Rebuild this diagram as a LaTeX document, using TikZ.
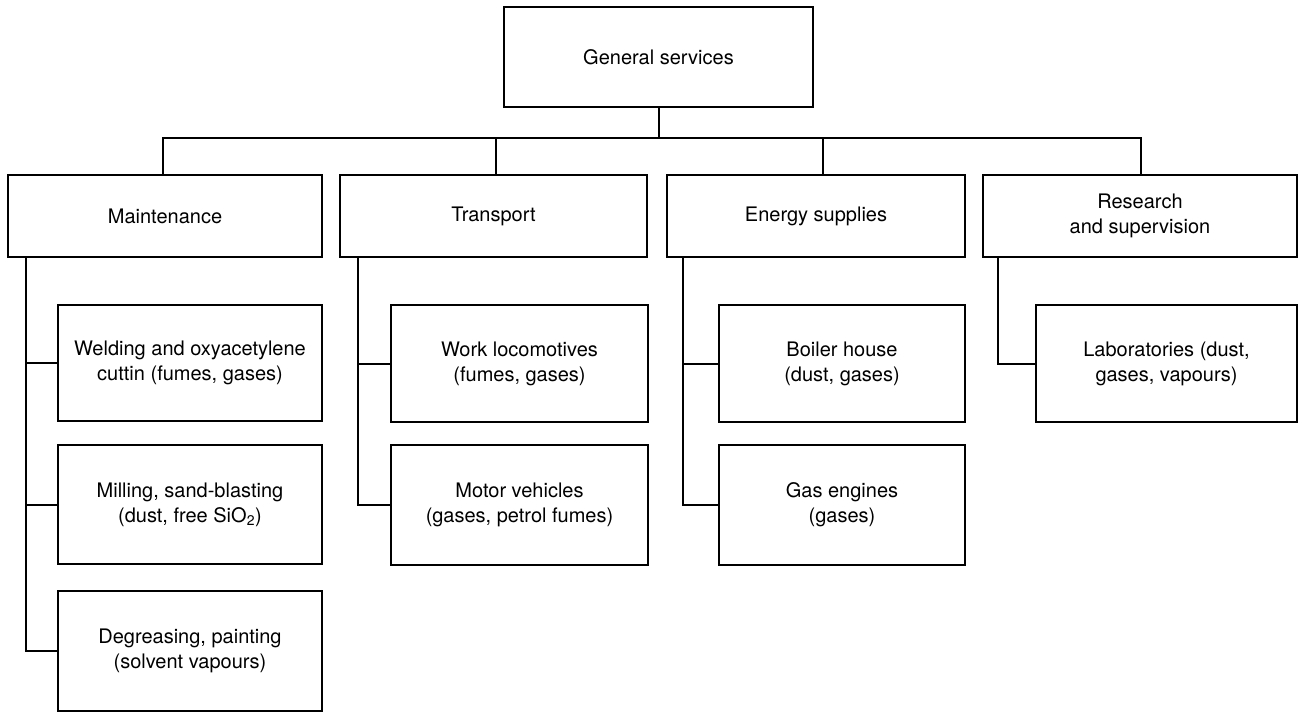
\documentclass[tikz,border=0pt]{standalone}
\usepackage{fontspec}
\setmainfont{TeX Gyre Heros}

\tikzset{every picture/.style={line width=1.5pt}}
\tikzset{orgbox/.style={draw, rectangle, align=center, inner sep=0pt, font=\fontsize{15}{18.75}\selectfont}}

\begin{document}
\begin{tikzpicture}[x=0.75pt,y=0.75pt,yscale=-1,xscale=1]
	\useasboundingbox (0,0) rectangle (1302,713);

	% Text Node
	\node[orgbox, minimum width=309*0.75pt, minimum height=100*0.75pt] (gen) at (658.5,57) {General services};
	% Text Node
	\node[orgbox, minimum width=314*0.75pt, minimum height=82*0.75pt] (maint) at (165,216) {Maintenance};
	% Text Node
	\node[orgbox, minimum width=307*0.75pt, minimum height=82*0.75pt] (trans) at (493.5,216) {Transport};
	% Text Node
	\node[orgbox, minimum width=298*0.75pt, minimum height=82*0.75pt] (energy) at (816,216) {Energy supplies};
	% Text Node
	\node[orgbox, minimum width=314*0.75pt, minimum height=82*0.75pt] (research) at (1140,216) {Research\\and supervision};

	% Text Node
	\node[orgbox, minimum width=264*0.75pt, minimum height=116*0.75pt] (weld) at (190,363) {Welding and oxyacetylene\\cuttin (fumes, gases)};
	% Text Node
	\node[orgbox, minimum width=264*0.75pt, minimum height=119*0.75pt] (mill) at (190,504.5) {Milling, sand-blasting\\(dust, free SiO\textsubscript{2})};
	% Text Node
	\node[orgbox, minimum width=264*0.75pt, minimum height=120*0.75pt] (degr) at (190,651) {Degreasing, painting\\(solvent vapours)};
	% Text Node
	\node[orgbox, minimum width=257*0.75pt, minimum height=117*0.75pt] (loco) at (519.5,363.5) {Work locomotives\\(fumes, gases)};
	% Text Node
	\node[orgbox, minimum width=257*0.75pt, minimum height=120*0.75pt] (motor) at (519.5,505) {Motor vehicles\\(gases, petrol fumes)};
	% Text Node
	\node[orgbox, minimum width=246*0.75pt, minimum height=117*0.75pt] (boiler) at (842,363.5) {Boiler house\\(dust, gases)};
	% Text Node
	\node[orgbox, minimum width=246*0.75pt, minimum height=120*0.75pt] (gaseng) at (842,505) {Gas engines\\(gases)};
	% Text Node
	\node[orgbox, minimum width=261*0.75pt, minimum height=117*0.75pt] (labs) at (1166.5,363.5) {Laboratories (dust,\\gases, vapours)};

	%Straight Lines
	\coordinate (bus) at (658.5,138);
	\draw (gen.south) -- (bus);
	\draw ([xshift=-1.5pt]maint.north) |- (bus) -| ([xshift=0.75pt]research.north);
	\draw ([xshift=1.9pt]trans.north) -- ([xshift=1.9pt]trans.north |- bus);
	\draw ([xshift=5.25pt]energy.north) -- ([xshift=5.25pt]energy.north |- bus);

	%Straight Lines
	\coordinate (mspine) at ([xshift=14.25pt]maint.south west);
	\draw (mspine) |- (degr.west);
	\draw (mspine |- weld.west) -- (weld.west);
	\draw (mspine |- mill.west) -- (mill.west);
	%Straight Lines
	\coordinate (tspine) at ([xshift=14.25pt]trans.south west);
	\draw (tspine) |- (motor.west);
	\draw (tspine |- loco.west) -- (loco.west);
	%Straight Lines
	\coordinate (espine) at ([xshift=12.75pt]energy.south west);
	\draw (espine) |- (gaseng.west);
	\draw (espine |- boiler.west) -- (boiler.west);
	%Straight Lines
	\coordinate (rspine) at ([xshift=12pt]research.south west);
	\draw (rspine) |- (labs.west);

\end{tikzpicture}
\end{document}
